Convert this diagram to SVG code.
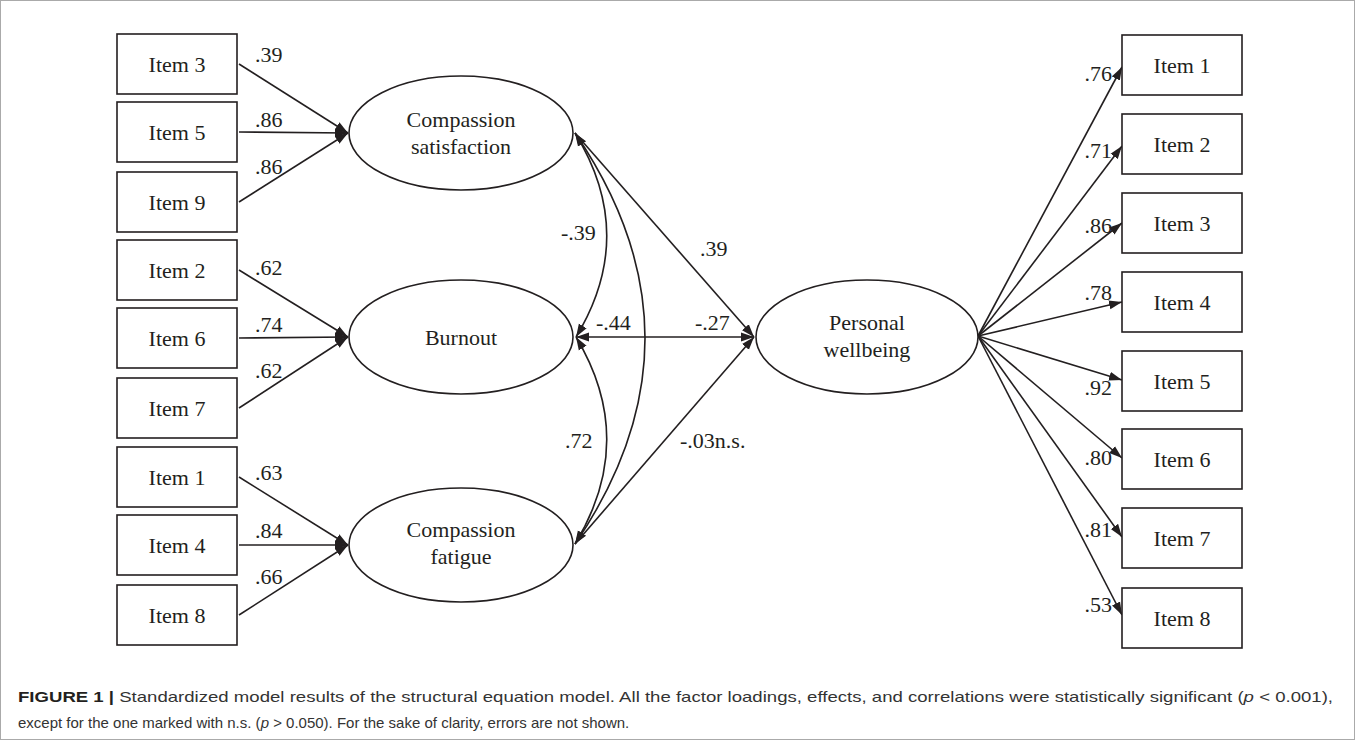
<svg xmlns="http://www.w3.org/2000/svg" width="1355" height="740" viewBox="0 0 1355 740">
<style>
.box{fill:#fff;stroke:#231f20;stroke-width:1.6}
.ell{fill:#fff;stroke:#231f20;stroke-width:1.6}
.t{font-family:"Liberation Serif","Times New Roman",serif;font-size:22px;fill:#231f20}
.c{text-anchor:middle}
.e{text-anchor:end}
.ln{fill:none;stroke:#231f20;stroke-width:1.6}
.cap{font-family:"Liberation Sans",Arial,sans-serif;font-size:15px;fill:#333}
</style>
<defs>
<marker id="ah" markerUnits="userSpaceOnUse" markerWidth="14" markerHeight="10" refX="13" refY="5" orient="auto">
<path d="M0,0.5 L13,5 L0,9.5 z" fill="#231f20"/>
</marker>
<marker id="ahs" markerUnits="userSpaceOnUse" markerWidth="14" markerHeight="10" refX="13" refY="5" orient="auto-start-reverse">
<path d="M0,0.5 L13,5 L0,9.5 z" fill="#231f20"/>
</marker>
</defs>
<rect x="0.5" y="0.5" width="1354" height="739" fill="#fff" stroke="#aaa" stroke-width="1"/>

<g id="connectors">
<path class="ln" d="M239,64 L348,133" marker-end="url(#ah)"/>
<path class="ln" d="M239,132 L348,133" marker-end="url(#ah)"/>
<path class="ln" d="M239,202 L348,133" marker-end="url(#ah)"/>
<path class="ln" d="M239,270 L348,337" marker-end="url(#ah)"/>
<path class="ln" d="M239,338 L348,337" marker-end="url(#ah)"/>
<path class="ln" d="M239,408 L348,337" marker-end="url(#ah)"/>
<path class="ln" d="M239,477 L348,545" marker-end="url(#ah)"/>
<path class="ln" d="M239,545 L348,545" marker-end="url(#ah)"/>
<path class="ln" d="M239,615 L348,545" marker-end="url(#ah)"/>
<path class="ln" d="M575,133 Q638,235 576,337" marker-start="url(#ahs)" marker-end="url(#ahs)"/>
<path class="ln" d="M575,133 Q715,338 575,544" marker-start="url(#ahs)" marker-end="url(#ahs)"/>
<path class="ln" d="M576,337 Q638,440 575,544" marker-start="url(#ahs)" marker-end="url(#ahs)"/>
<path class="ln" d="M575,133 L754,337" marker-end="url(#ah)"/>
<path class="ln" d="M576,337 L754,337" marker-start="url(#ahs)" marker-end="url(#ah)"/>
<path class="ln" d="M575,544 L754,337" marker-end="url(#ah)"/>
<path class="ln" d="M978,336 L1122,67" marker-end="url(#ah)"/>
<path class="ln" d="M978,336 L1122,146" marker-end="url(#ah)"/>
<path class="ln" d="M978,336 L1122,223" marker-end="url(#ah)"/>
<path class="ln" d="M978,336 L1122,302" marker-end="url(#ah)"/>
<path class="ln" d="M978,336 L1122,380" marker-end="url(#ah)"/>
<path class="ln" d="M978,336 L1122,458" marker-end="url(#ah)"/>
<path class="ln" d="M978,336 L1122,537" marker-end="url(#ah)"/>
<path class="ln" d="M978,336 L1122,615" marker-end="url(#ah)"/>
<text class="t" x="255" y="62">.39</text>
<text class="t" x="255" y="127">.86</text>
<text class="t" x="255" y="174">.86</text>
<text class="t" x="255" y="275">.62</text>
<text class="t" x="255" y="332">.74</text>
<text class="t" x="255" y="378">.62</text>
<text class="t" x="255" y="480">.63</text>
<text class="t" x="255" y="538">.84</text>
<text class="t" x="255" y="584">.66</text>
<text class="t" x="561" y="240">-.39</text>
<text class="t" x="700" y="256">.39</text>
<text class="t" x="596" y="330">-.44</text>
<text class="t" x="695" y="330">-.27</text>
<text class="t" x="565" y="448">.72</text>
<text class="t" x="680" y="448">-.03n.s.</text>
<text class="t e" x="1112" y="81">.76</text>
<text class="t e" x="1112" y="158">.71</text>
<text class="t e" x="1112" y="233">.86</text>
<text class="t e" x="1112" y="300">.78</text>
<text class="t e" x="1112" y="395">.92</text>
<text class="t e" x="1112" y="465">.80</text>
<text class="t e" x="1112" y="537">.81</text>
<text class="t e" x="1112" y="612">.53</text>
</g>

<g id="L-item3"><rect class="box" x="117" y="34" width="120" height="60"/><text class="t c" x="177" y="72">Item 3</text></g>
<g id="L-item5"><rect class="box" x="117" y="102" width="120" height="60"/><text class="t c" x="177" y="140">Item 5</text></g>
<g id="L-item9"><rect class="box" x="117" y="172" width="120" height="60"/><text class="t c" x="177" y="210">Item 9</text></g>
<g id="L-item2"><rect class="box" x="117" y="240" width="120" height="60"/><text class="t c" x="177" y="278">Item 2</text></g>
<g id="L-item6"><rect class="box" x="117" y="308" width="120" height="60"/><text class="t c" x="177" y="346">Item 6</text></g>
<g id="L-item7"><rect class="box" x="117" y="378" width="120" height="60"/><text class="t c" x="177" y="416">Item 7</text></g>
<g id="L-item1"><rect class="box" x="117" y="447" width="120" height="60"/><text class="t c" x="177" y="485">Item 1</text></g>
<g id="L-item4"><rect class="box" x="117" y="515" width="120" height="60"/><text class="t c" x="177" y="553">Item 4</text></g>
<g id="L-item8"><rect class="box" x="117" y="585" width="120" height="60"/><text class="t c" x="177" y="623">Item 8</text></g>

<g id="compassion-satisfaction"><ellipse class="ell" cx="461" cy="133" rx="112" ry="57"/><text class="t c" x="461" y="127">Compassion</text><text class="t c" x="461" y="154">satisfaction</text></g>
<g id="burnout"><ellipse class="ell" cx="461" cy="337" rx="112" ry="57"/><text class="t c" x="461" y="345">Burnout</text></g>
<g id="compassion-fatigue"><ellipse class="ell" cx="461" cy="545" rx="112" ry="57"/><text class="t c" x="461" y="537">Compassion</text><text class="t c" x="461" y="564">fatigue</text></g>
<g id="personal-wellbeing"><ellipse class="ell" cx="867" cy="337" rx="111" ry="57"/><text class="t c" x="867" y="330">Personal</text><text class="t c" x="867" y="357">wellbeing</text></g>

<g id="R-item1"><rect class="box" x="1122" y="35" width="120" height="60"/><text class="t c" x="1182" y="73">Item 1</text></g>
<g id="R-item2"><rect class="box" x="1122" y="114" width="120" height="60"/><text class="t c" x="1182" y="152">Item 2</text></g>
<g id="R-item3"><rect class="box" x="1122" y="193" width="120" height="60"/><text class="t c" x="1182" y="231">Item 3</text></g>
<g id="R-item4"><rect class="box" x="1122" y="272" width="120" height="60"/><text class="t c" x="1182" y="310">Item 4</text></g>
<g id="R-item5"><rect class="box" x="1122" y="351" width="120" height="60"/><text class="t c" x="1182" y="389">Item 5</text></g>
<g id="R-item6"><rect class="box" x="1122" y="429" width="120" height="60"/><text class="t c" x="1182" y="467">Item 6</text></g>
<g id="R-item7"><rect class="box" x="1122" y="508" width="120" height="60"/><text class="t c" x="1182" y="546">Item 7</text></g>
<g id="R-item8"><rect class="box" x="1122" y="588" width="120" height="60"/><text class="t c" x="1182" y="626">Item 8</text></g>

<g id="caption">
<text class="cap" x="18" y="702" textLength="1315" lengthAdjust="spacingAndGlyphs"><tspan font-weight="bold" fill="#231f20">FIGURE 1 |</tspan> Standardized model results of the structural equation model. All the factor loadings, effects, and correlations were statistically significant (<tspan font-style="italic">p</tspan> &lt; 0.001),</text>
<text class="cap" x="18" y="728">except for the one marked with n.s. (<tspan font-style="italic">p</tspan> &gt; 0.050). For the sake of clarity, errors are not shown.</text>
</g>
</svg>
